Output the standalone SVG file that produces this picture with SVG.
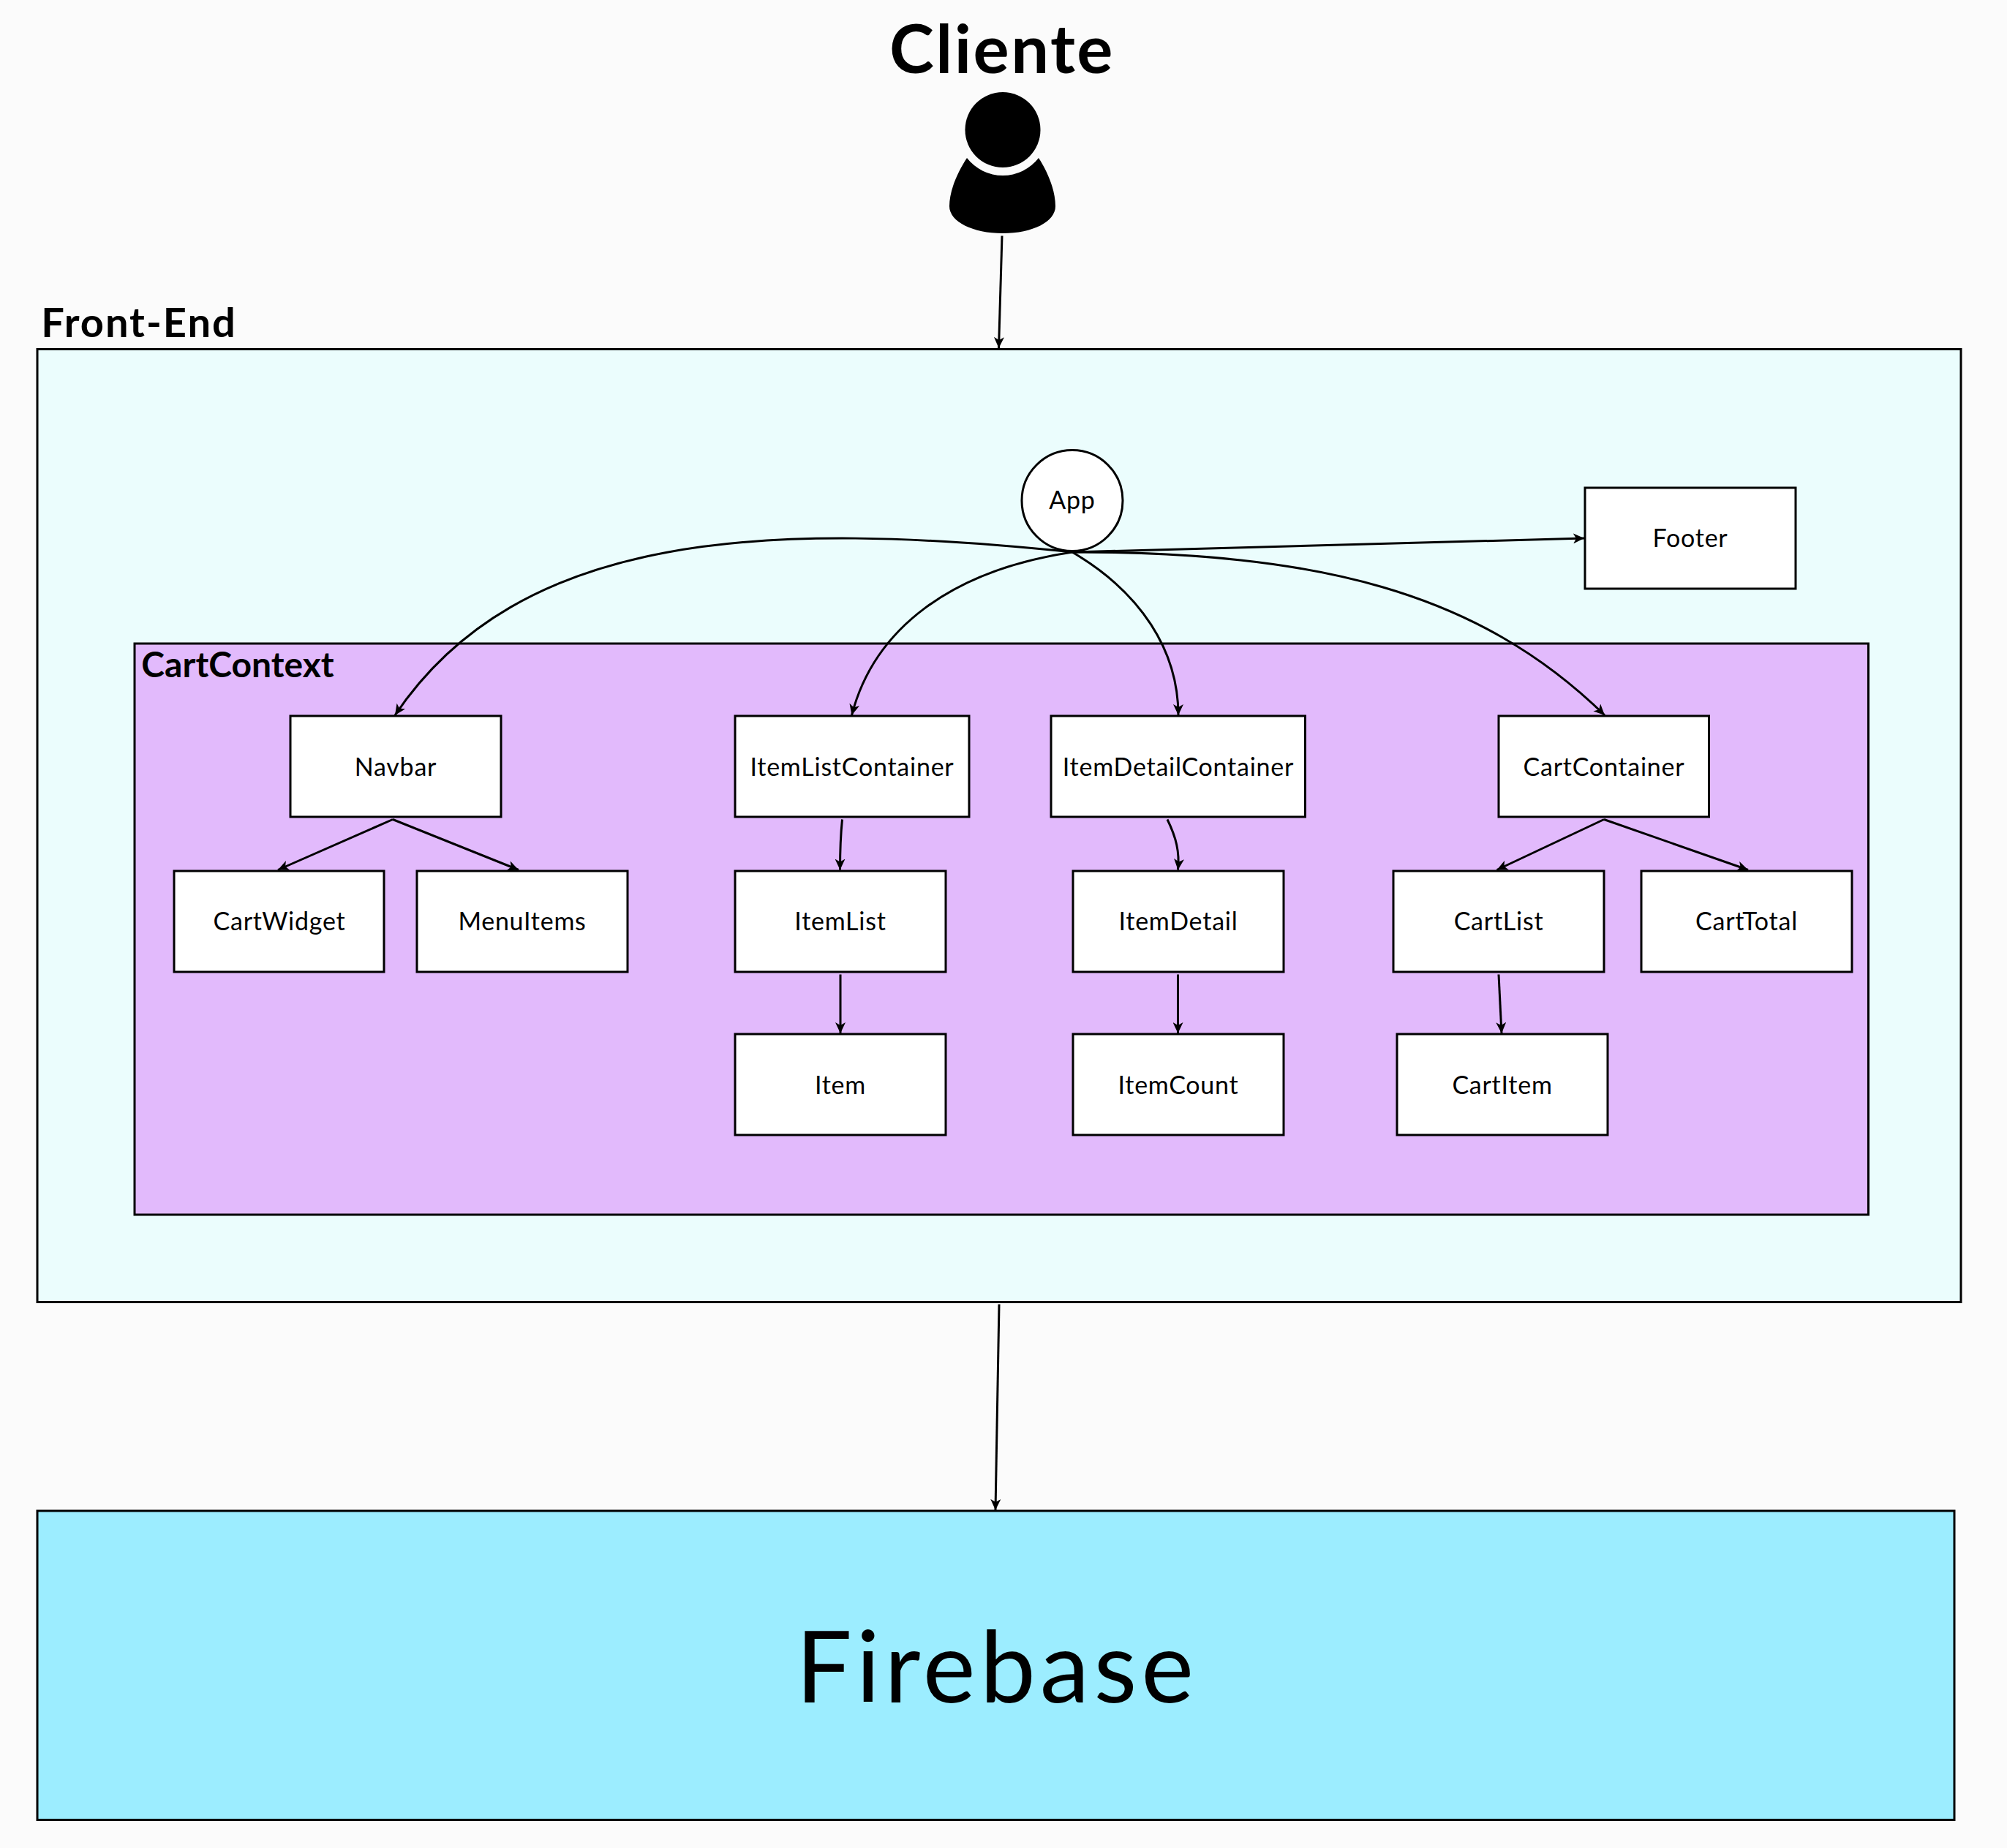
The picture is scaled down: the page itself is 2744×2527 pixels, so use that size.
<svg xmlns="http://www.w3.org/2000/svg" width="2744" height="2527" viewBox="0 0 2744 2527">
<style>
text{font-family:"Lato","Open Sans","Liberation Sans",sans-serif;fill:#000;text-anchor:middle}
.n{fill:#fff;stroke:#000;stroke-width:3}
.c{fill:none;stroke:#000;stroke-width:3;marker-end:url(#a)}
.l{font-size:34px;letter-spacing:.75px}
.b{font-weight:700}
</style>
<defs><marker id="a" markerUnits="userSpaceOnUse" markerWidth="16" markerHeight="14" refX="15" refY="7" orient="auto"><path d="M0 0L15 7L0 14L4 7Z" fill="#000"/></marker></defs>
<rect width="2744" height="2527" fill="#fbfbfb"/>
<g id="cliente">
<text class="b" x="1370" y="100" font-size="92" letter-spacing="2.500">Cliente</text>
<circle cx="1371" cy="177.5" r="51.5" fill="#000"/>
<path d="M1322 216A62 62 0 0 0 1420 216C1432 234 1443 260 1443 282C1443 303 1412 319 1371 319C1330 319 1298 303 1298 282C1298 260 1310 234 1322 216Z" fill="#000"/>
</g>
<g id="front-end">
<text class="b" x="190" y="461" font-size="56" letter-spacing="2">Front-End</text>
<rect x="51" y="477.5" width="2630" height="1303" fill="#ebfdfd" stroke="#000" stroke-width="3"/>
</g>
<g id="cart-context">
<rect x="184" y="880" width="2370.500" height="781" fill="#e2bafc" stroke="#000" stroke-width="3"/>
<text class="b" x="325" y="926" font-size="48">CartContext</text>
</g>
<g id="firebase">
<rect x="51" y="2066" width="2621" height="422.500" fill="#9cedff" stroke="#000" stroke-width="3"/>
<text x="1363" y="2328" font-size="136" letter-spacing="6">Firebase</text>
</g>
<g id="connectors">
<path class="c" d="M1370 322.500L1365.500 476"/>
<path class="c" d="M1366 1783.500L1361 2065"/>
<path class="c" d="M1466 755L2166 736"/>
<path class="c" d="M1466 755C1800 755 2020 808 2194 978"/>
<path class="c" d="M1466 755C1560 810 1611 890 1611 978"/>
<path class="c" d="M1466 755C1300 780 1195 860 1164.500 978"/>
<path class="c" d="M1466 755C1050 712 710 725 540 978"/>
<path class="c" d="M537 1120.500L380 1189.500"/>
<path class="c" d="M537 1120.500L709 1189.500"/>
<path class="c" d="M1151.500 1120.500C1149 1145 1148.500 1165 1148.500 1189.500"/>
<path class="c" d="M1149 1332.500L1149 1413"/>
<path class="c" d="M1596 1120.500C1608 1145 1613 1165 1610.500 1189.500"/>
<path class="c" d="M1610.500 1332.500L1610.500 1413"/>
<path class="c" d="M2193 1120.500L2046.500 1189.500"/>
<path class="c" d="M2193 1120.500L2390 1189.500"/>
<path class="c" d="M2049 1332.500L2053 1413"/>
</g>
<g id="app"><ellipse class="n" cx="1466" cy="684.500" rx="69" ry="69"/><text class="l" x="1466" y="696">App</text></g>
<g id="footer"><rect class="n" x="2167" y="667" width="288" height="138"/><text class="l" x="2311" y="748">Footer</text></g>
<g id="navbar"><rect class="n" x="397" y="979" width="288" height="138"/><text class="l" x="541" y="1060.500">Navbar</text></g>
<g id="itemlistcontainer"><rect class="n" x="1005" y="979" width="320" height="138"/><text class="l" x="1165" y="1060.500">ItemListContainer</text></g>
<g id="itemdetailcontainer"><rect class="n" x="1437" y="979" width="347.500" height="138"/><text class="l" x="1611" y="1060.500">ItemDetailContainer</text></g>
<g id="cartcontainer"><rect class="n" x="2049" y="979" width="287.500" height="138"/><text class="l" x="2193" y="1060.500">CartContainer</text></g>
<g id="cartwidget"><rect class="n" x="238" y="1191" width="287" height="138"/><text class="l" x="382" y="1272">CartWidget</text></g>
<g id="menuitems"><rect class="n" x="570" y="1191" width="288" height="138"/><text class="l" x="714" y="1272">MenuItems</text></g>
<g id="itemlist"><rect class="n" x="1005" y="1191" width="288" height="138"/><text class="l" x="1149" y="1272">ItemList</text></g>
<g id="itemdetail"><rect class="n" x="1467" y="1191" width="288" height="138"/><text class="l" x="1611" y="1272">ItemDetail</text></g>
<g id="cartlist"><rect class="n" x="1905" y="1191" width="288" height="138"/><text class="l" x="2049" y="1272">CartList</text></g>
<g id="carttotal"><rect class="n" x="2244" y="1191" width="288" height="138"/><text class="l" x="2388" y="1272">CartTotal</text></g>
<g id="item"><rect class="n" x="1005" y="1414" width="288" height="138"/><text class="l" x="1149" y="1495.500">Item</text></g>
<g id="itemcount"><rect class="n" x="1467" y="1414" width="288" height="138"/><text class="l" x="1611" y="1495.500">ItemCount</text></g>
<g id="cartitem"><rect class="n" x="1910" y="1414" width="288" height="138"/><text class="l" x="2054" y="1495.500">CartItem</text></g>
</svg>
